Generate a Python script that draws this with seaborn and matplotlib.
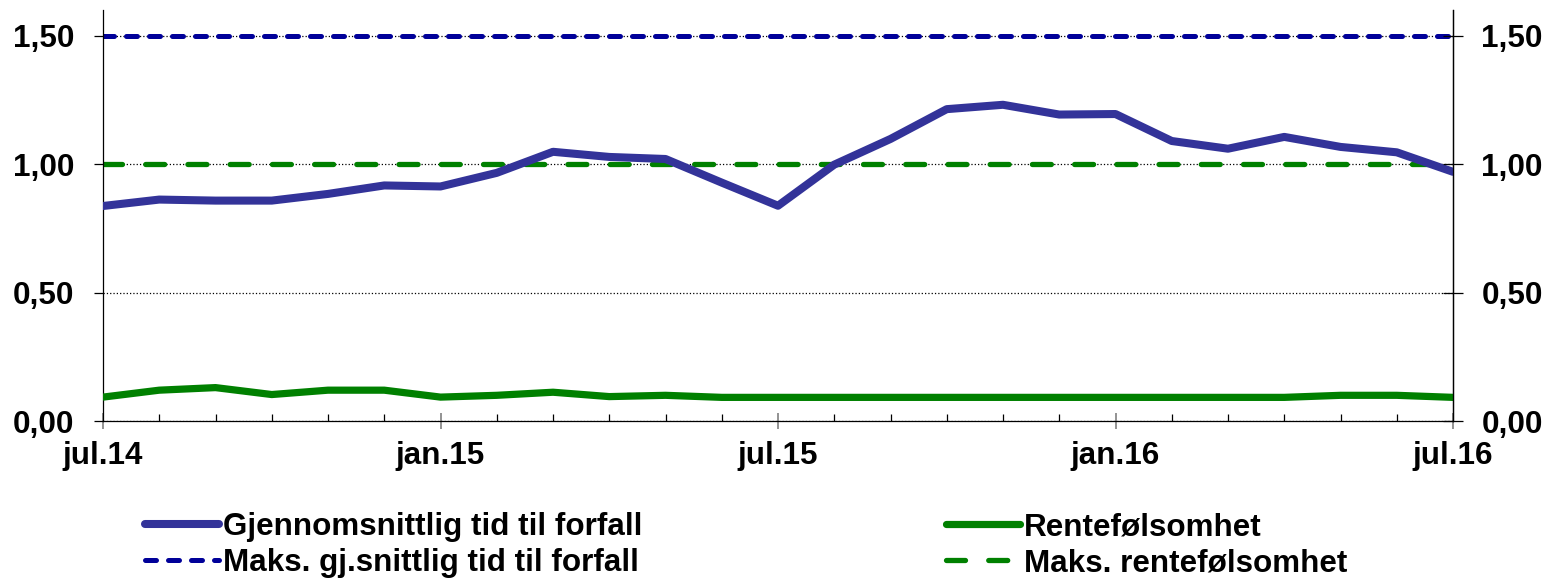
import matplotlib
matplotlib.use("Agg")
import matplotlib.pyplot as plt
import numpy as np
import pandas as pd
import seaborn as sns

# Data (monthly, jul.14 - jul.16)
months = list(range(25))
tid_til_forfall = [0.837, 0.862, 0.858, 0.858, 0.884, 0.917, 0.913, 0.966, 1.048, 1.028,
                   1.020, 0.928, 0.838, 0.998, 1.098, 1.214, 1.231, 1.193, 1.195, 1.090,
                   1.060, 1.106, 1.067, 1.046, 0.970]
rentefolsomhet = [0.093, 0.120, 0.130, 0.103, 0.120, 0.120, 0.093, 0.100, 0.112, 0.095,
                  0.100, 0.092, 0.092, 0.092, 0.092, 0.092, 0.092, 0.092, 0.092, 0.092,
                  0.092, 0.092, 0.100, 0.100, 0.092]
maks_tid = 1.50
maks_rente = 1.00

major_pos = [0, 6, 12, 18, 24]
major_labels = ["jul.14", "jan.15", "jul.15", "jan.16", "jul.16"]
y_ticks = [0.0, 0.5, 1.0, 1.5]
y_labels = ["0,00", "0,50", "1,00", "1,50"]

sns.set_theme(style="white")
plt.rcParams['font.family'] = ['Liberation Sans', 'DejaVu Sans']
plt.rcParams['font.weight'] = 'bold'
plt.rcParams['text.color'] = 'black'
plt.rcParams['xtick.color'] = 'black'
plt.rcParams['ytick.color'] = 'black'
plt.rcParams['xtick.labelcolor'] = 'black'
plt.rcParams['ytick.labelcolor'] = 'black'
FS = 22.6

df = pd.DataFrame({"m": months, "tid": tid_til_forfall, "rente": rentefolsomhet})

fig = plt.figure(figsize=(15.48, 5.78), dpi=100)
ax = fig.add_axes([103 / 1548, 157 / 578, 1350 / 1548, 411 / 578])

ax.yaxis.grid(True, linestyle=':', color='black', linewidth=0.9)
ax.set_axisbelow(True)

ax.axhline(maks_tid, color='#000099', lw=3.6, dashes=(2.2, 2.4),
           dash_capstyle='round', label="Maks. gj.snittlig tid til forfall", zorder=2)
ax.axhline(maks_rente, color='#008000', lw=3.8, dashes=(3.6, 4.4),
           dash_capstyle='round', label="Maks. rentefølsomhet", zorder=2)
sns.lineplot(data=df, x="m", y="tid", ax=ax, color='#333399', lw=5.8,
             label="Gjennomsnittlig tid til forfall", zorder=3)
sns.lineplot(data=df, x="m", y="rente", ax=ax, color='#008000', lw=5.2,
             label="Rentefølsomhet", zorder=3)

ax.set_xlim(0, 24)
ax.set_ylim(0, 1.6)
ax.set_xlabel("")
ax.set_ylabel("")
ax.spines["top"].set_visible(False)
for s in ["left", "right", "bottom"]:
    ax.spines[s].set_color('black')
    ax.spines[s].set_linewidth(0.9)

ax.set_xticks(major_pos)
ax.set_xticklabels(major_labels, fontsize=FS, fontweight='bold')
ax.set_xticks(months, minor=True)
ax.tick_params(axis='x', which='major', direction='inout', length=11.5, width=1.2,
               color='#808080', pad=9, bottom=True)
ax.tick_params(axis='x', which='minor', direction='in', length=5, width=0.9,
               color='black', bottom=True)

ax.set_yticks(y_ticks)
ax.set_yticklabels(y_labels, fontsize=FS, fontweight='bold')
ax.tick_params(axis='y', direction='out', length=6.5, width=0.9, color='black', pad=14, left=True)

ax2 = ax.twinx()
ax2.set_ylim(ax.get_ylim())
ax2.set_yticks(y_ticks)
ax2.set_yticklabels(y_labels, fontsize=FS, fontweight='bold')
ax2.tick_params(axis='y', direction='inout', length=13.7, width=0.9, color='black', pad=13.5, right=True)
for s in ["top", "left", "bottom"]:
    ax2.spines[s].set_visible(False)
ax2.spines["right"].set_color('black')
ax2.spines["right"].set_linewidth(0.9)
ax2.grid(False)

handles, labels = ax.get_legend_handles_labels()
order = ["Gjennomsnittlig tid til forfall", "Maks. gj.snittlig tid til forfall",
         "Rentefølsomhet", "Maks. rentefølsomhet"]
hmap = dict(zip(labels, handles))
ax.get_legend().remove()
fig.legend([hmap[k] for k in order], order, loc='upper left',
           bbox_to_anchor=(145 / 1548, 1 - 512 / 578), ncol=2, frameon=False,
           prop={'size': FS, 'weight': 'bold'}, handlelength=2.35, handletextpad=0.12,
           columnspacing=9.7, labelspacing=0.2, borderpad=0, borderaxespad=0)

fig.savefig("out.png", dpi=100)
